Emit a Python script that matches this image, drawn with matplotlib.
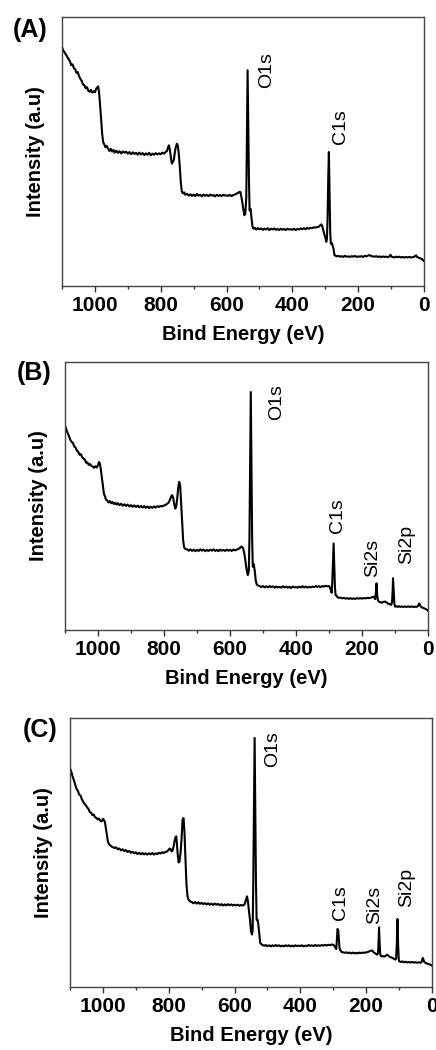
import matplotlib
matplotlib.use("Agg")
import matplotlib.pyplot as plt
from matplotlib.ticker import MultipleLocator

plt.rcParams['font.family'] = ['Liberation Sans', 'DejaVu Sans']

# ---------------- Data (binding energy eV, intensity a.u.) ----------------
E_A = [1100, 1096, 1092, 1088, 1084, 1080, 1076, 1072, 1068, 1064, 1060, 1056, 1052, 1048, 1044, 1040, 1036, 1032, 1028, 1024,
       1020, 1016, 1012, 1008, 1004, 1000, 996, 993, 990, 987, 984, 981, 978, 975, 972, 968, 964, 960, 956, 952,
       948, 944, 940, 935, 930, 925, 920, 915, 910, 905, 900, 895, 890, 885, 880, 875, 870, 865, 860, 855,
       850, 845, 840, 835, 830, 825, 820, 815, 810, 805, 800, 795, 790, 785, 781, 778, 775, 772, 769, 766,
       763, 760, 757, 754, 751, 748, 745, 742, 739, 736, 733, 729, 725, 720, 715, 710, 705, 700, 695, 690,
       685, 680, 675, 670, 665, 660, 655, 650, 645, 640, 635, 630, 625, 620, 615, 610, 605, 600, 595, 590,
       585, 580, 575, 570, 565, 561, 558, 555, 552, 549, 546, 543, 540, 538, 536, 534, 532, 530, 527, 524,
       521, 518, 514, 510, 505, 500, 495, 490, 485, 480, 475, 470, 465, 460, 455, 450, 445, 440, 435, 430,
       425, 420, 415, 410, 405, 400, 395, 390, 385, 380, 375, 370, 365, 360, 355, 350, 345, 340, 335, 330,
       325, 320, 316, 312, 309, 306, 303, 300, 297, 295, 293, 291, 289, 287, 285, 283, 281, 278, 275, 272,
       268, 264, 260, 255, 250, 245, 240, 235, 230, 225, 220, 215, 210, 205, 200, 195, 190, 185, 180, 175,
       170, 165, 160, 155, 150, 145, 140, 135, 130, 125, 120, 115, 110, 105, 102, 99, 95, 90, 85, 80,
       75, 70, 65, 60, 55, 50, 45, 40, 35, 30, 27, 24, 21, 18, 15, 10, 6, 3, 0]
I_A = [88.8, 87.5, 86.8, 86.0, 85.2, 84.3, 83.6, 82.1, 82.4, 81.0, 80.6, 79.2, 79.5, 77.9, 77.0, 76.2, 74.9, 74.6, 73.5, 73.9,
       72.6, 72.2, 72.9, 71.9, 72.4, 72.0, 73.4, 73.8, 74.2, 71.5, 67.0, 62.0, 56.6, 53.5, 52.8, 51.6, 52.1, 51.0, 50.2, 51.0,
       50.0, 50.6, 49.6, 50.3, 49.5, 50.1, 49.3, 50.0, 49.6, 49.9, 49.2, 49.8, 49.0, 49.7, 49.1, 49.5, 48.8, 49.6, 48.9, 49.4,
       48.7, 49.3, 48.8, 49.5, 48.6, 49.2, 48.8, 49.4, 48.9, 49.3, 49.0, 49.6, 49.2, 49.8, 50.2, 51.4, 52.3, 50.5, 47.6, 45.5,
       46.2, 47.0, 49.8, 51.7, 52.9, 52.2, 49.0, 44.2, 38.5, 35.2, 34.4, 34.8, 33.9, 34.3, 33.6, 34.1, 33.5, 34.0, 33.4, 34.2,
       33.6, 33.9, 33.3, 34.0, 33.5, 33.9, 33.4, 34.0, 33.6, 33.8, 33.3, 33.9, 33.5, 33.8, 33.4, 33.9, 33.6, 33.7, 33.5, 33.9,
       33.4, 33.8, 34.0, 34.3, 34.6, 35.0, 34.9, 33.2, 31.0, 28.5, 26.3, 26.8, 33.0, 55.0, 80.2, 60.0, 40.0, 28.1, 28.7, 25.0,
       22.0, 21.3, 21.6, 21.0, 21.5, 21.1, 21.4, 20.9, 21.3, 21.0, 21.5, 20.8, 21.3, 21.0, 21.4, 20.9, 21.2, 20.8, 21.3, 20.9,
       21.2, 20.8, 21.3, 21.0, 21.1, 20.9, 21.3, 20.8, 21.2, 21.0, 21.4, 21.1, 21.5, 21.1, 21.6, 21.3, 21.6, 21.5, 21.8, 21.7,
       21.9, 22.0, 22.5, 22.9, 22.2, 20.7, 19.2, 18.2, 16.4, 17.5, 25.0, 40.0, 49.8, 35.0, 20.0, 15.7, 16.0, 15.2, 13.9, 11.4,
       11.2, 11.0, 11.2, 10.9, 11.1, 10.8, 11.2, 10.9, 11.0, 10.8, 11.1, 10.9, 11.2, 10.8, 11.0, 10.9, 11.1, 10.8, 11.2, 11.0,
       11.3, 11.5, 11.1, 11.0, 10.9, 11.1, 10.8, 11.0, 10.7, 11.0, 10.8, 10.9, 10.7, 11.0, 11.6, 10.9, 10.8, 10.6, 10.9, 10.7,
       10.9, 10.6, 10.8, 10.6, 10.8, 10.6, 10.8, 10.6, 10.7, 10.8, 11.2, 11.4, 10.8, 10.6, 10.5, 10.2, 10.0, 9.6, 9.3]

E_B = [1100, 1096, 1092, 1088, 1084, 1080, 1076, 1072, 1068, 1064, 1060, 1056, 1052, 1048, 1044, 1040, 1036, 1032, 1028, 1024,
       1020, 1016, 1012, 1008, 1004, 1000, 997, 994, 991, 988, 985, 982, 979, 976, 972, 968, 964, 960, 956, 952,
       948, 944, 940, 935, 930, 925, 920, 915, 910, 905, 900, 895, 890, 885, 880, 875, 870, 865, 860, 855,
       850, 845, 840, 835, 830, 825, 820, 815, 810, 805, 800, 795, 790, 786, 782, 778, 775, 772, 769, 766,
       763, 760, 757, 754, 751, 748, 745, 742, 739, 735, 730, 725, 720, 715, 710, 705, 700, 695, 690, 685,
       680, 675, 670, 665, 660, 655, 650, 645, 640, 635, 630, 625, 620, 615, 610, 605, 600, 595, 590, 585,
       580, 575, 570, 566, 563, 560, 557, 554, 551, 548, 546, 543, 541, 539, 537, 535, 533, 531, 528, 525,
       522, 519, 515, 510, 505, 500, 495, 490, 485, 480, 475, 470, 465, 460, 455, 450, 445, 440, 435, 430,
       425, 420, 415, 410, 405, 400, 395, 390, 385, 380, 375, 370, 365, 360, 355, 350, 345, 340, 335, 330,
       325, 320, 315, 310, 305, 300, 297, 294, 292, 290, 288, 286, 284, 282, 280, 277, 274, 270, 265, 260,
       255, 250, 245, 240, 235, 230, 225, 220, 215, 210, 205, 200, 195, 190, 185, 180, 175, 170, 165, 162,
       160, 158, 156, 154, 152, 149, 145, 140, 135, 130, 126, 122, 118, 114, 111, 109, 107, 106, 104, 102,
       100, 96, 92, 88, 84, 80, 75, 70, 65, 60, 55, 50, 45, 40, 35, 31, 28, 26, 24, 20,
       15, 10, 5, 0]
I_B = [76.4, 74.8, 73.5, 72.4, 71.0, 70.2, 69.8, 68.5, 68.1, 66.9, 66.5, 65.4, 65.6, 64.5, 64.0, 63.6, 62.4, 62.5, 61.6, 61.9,
       61.2, 61.0, 60.5, 61.1, 60.6, 61.5, 62.7, 62.0, 59.5, 56.5, 53.4, 50.8, 49.9, 48.7, 48.3, 47.6, 48.1, 47.3, 47.8, 47.0,
       47.5, 46.8, 47.3, 46.6, 47.1, 46.4, 46.9, 46.3, 46.8, 46.1, 46.6, 46.0, 46.5, 45.9, 46.4, 45.8, 46.3, 45.7, 46.2, 45.6,
       46.1, 45.5, 46.0, 45.6, 46.1, 45.7, 46.2, 45.9, 46.3, 46.1, 46.5, 46.6, 47.2, 47.5, 48.6, 49.9, 50.3, 49.2, 47.0, 45.3,
       46.0, 49.0, 53.0, 55.3, 54.0, 47.0, 40.0, 33.5, 30.8, 30.2, 30.1, 29.6, 30.1, 29.5, 30.0, 29.4, 29.9, 29.5, 30.1, 29.6,
       30.0, 29.4, 29.9, 29.5, 30.0, 29.6, 30.1, 29.5, 29.9, 29.4, 30.0, 29.6, 29.9, 29.5, 30.0, 29.6, 29.9, 29.5, 30.0, 29.7,
       30.0, 30.2, 30.6, 31.1, 31.0, 30.4, 28.8, 26.5, 23.6, 21.5, 20.5, 22.0, 35.0, 60.0, 88.8, 60.0, 35.0, 23.6, 24.6, 22.0,
       18.5, 17.0, 16.6, 16.4, 16.0, 16.4, 15.9, 16.3, 15.9, 16.4, 16.0, 16.3, 15.8, 16.2, 15.9, 16.1, 15.8, 16.3, 15.9, 16.2,
       15.8, 16.1, 15.7, 16.2, 15.9, 16.0, 15.8, 16.2, 15.9, 16.3, 15.9, 16.2, 15.8, 16.1, 15.9, 16.2, 16.0, 16.4, 16.1, 16.3,
       16.0, 16.4, 16.2, 16.5, 16.3, 16.4, 15.8, 14.8, 13.9, 18.0, 25.0, 32.3, 24.0, 16.0, 13.0, 12.8, 12.2, 12.0, 12.1, 11.8,
       12.0, 11.7, 11.9, 11.6, 11.9, 11.6, 11.8, 11.6, 11.9, 11.7, 11.9, 11.7, 11.9, 11.8, 12.0, 11.9, 12.0, 12.2, 12.4, 12.0,
       11.5, 14.0, 17.4, 13.0, 11.2, 10.6, 10.4, 10.2, 10.5, 10.6, 10.3, 9.9, 9.7, 9.5, 9.4, 10.5, 15.0, 19.3, 15.0, 10.0,
       8.7, 8.9, 8.6, 8.9, 8.6, 8.8, 8.6, 8.8, 8.6, 8.8, 8.6, 8.8, 8.6, 8.7, 8.6, 8.9, 9.6, 9.9, 9.2, 8.5,
       8.3, 8.0, 7.7, 7.2]

E_C = [1100, 1096, 1092, 1088, 1084, 1080, 1076, 1072, 1068, 1064, 1060, 1056, 1052, 1048, 1044, 1040, 1036, 1032, 1028, 1024,
       1020, 1016, 1012, 1008, 1004, 1000, 997, 994, 991, 988, 985, 982, 979, 975, 970, 965, 960, 955, 950, 945,
       940, 935, 930, 925, 920, 915, 910, 905, 900, 895, 890, 885, 880, 875, 870, 865, 860, 855, 850, 845,
       840, 835, 830, 825, 820, 815, 810, 805, 800, 797, 794, 791, 788, 785, 782, 779, 777, 775, 773, 770,
       767, 764, 761, 758, 755, 752, 749, 746, 743, 740, 735, 730, 725, 720, 715, 710, 705, 700, 695, 690,
       685, 680, 675, 670, 665, 660, 655, 650, 645, 640, 635, 630, 625, 620, 615, 610, 605, 600, 595, 590,
       585, 580, 575, 570, 567, 564, 562, 559, 556, 553, 550, 547, 545, 543, 541, 539, 537, 535, 533, 530,
       528, 525, 522, 518, 514, 510, 505, 500, 495, 490, 485, 480, 475, 470, 465, 460, 455, 450, 445, 440,
       435, 430, 425, 420, 415, 410, 405, 400, 395, 390, 385, 380, 375, 370, 365, 360, 355, 350, 345, 340,
       335, 330, 325, 320, 315, 310, 305, 300, 297, 294, 291, 289, 287, 285, 283, 281, 279, 275, 270, 265,
       260, 255, 250, 245, 240, 235, 230, 225, 220, 215, 210, 205, 200, 195, 190, 185, 182, 178, 174, 170,
       167, 164, 162, 161, 159, 157, 155, 150, 145, 140, 136, 132, 128, 124, 120, 116, 112, 109, 107, 105,
       103, 101, 99, 95, 90, 85, 80, 75, 70, 65, 60, 55, 50, 45, 40, 35, 32, 30, 28, 26,
       24, 20, 15, 10, 5, 0]
I_C = [81.4, 80.0, 78.2, 76.8, 75.2, 73.6, 72.9, 71.5, 71.2, 69.8, 68.9, 68.1, 67.6, 66.8, 66.2, 65.1, 64.8, 63.9, 64.1, 63.1,
       62.9, 62.3, 62.6, 61.8, 61.6, 62.5, 62.1, 61.4, 59.0, 56.5, 54.2, 53.2, 52.8, 52.3, 52.0, 51.7, 51.9, 51.2, 51.5, 50.8,
       51.2, 50.5, 50.9, 50.2, 50.6, 49.9, 50.3, 49.7, 50.1, 49.4, 49.9, 49.3, 49.8, 49.3, 49.7, 49.2, 49.7, 49.3, 49.8, 49.2,
       49.7, 49.4, 49.9, 49.6, 50.1, 49.8, 50.2, 50.4, 51.0, 51.5, 51.2, 50.4, 50.8, 52.3, 54.5, 55.8, 56.0, 53.0, 49.8, 46.3,
       46.8, 50.0, 55.0, 62.2, 62.8, 57.2, 47.0, 38.0, 33.8, 32.5, 31.8, 31.6, 31.1, 31.6, 31.0, 31.5, 30.9, 31.3, 30.8, 31.2,
       30.7, 31.1, 30.6, 31.0, 30.5, 31.0, 30.6, 30.9, 30.4, 30.8, 30.3, 30.7, 30.3, 30.8, 30.4, 30.7, 30.3, 30.6, 30.3, 30.6,
       30.2, 30.5, 30.3, 30.6, 31.8, 33.0, 33.7, 31.5, 28.0, 25.0, 20.7, 19.5, 21.0, 40.0, 65.0, 92.6, 65.0, 40.0, 25.0, 25.0,
       23.5, 20.1, 16.4, 15.8, 15.6, 15.3, 15.6, 15.2, 15.5, 15.1, 15.5, 15.2, 15.6, 15.2, 15.5, 15.1, 15.4, 15.1, 15.5, 15.2,
       15.5, 15.1, 15.4, 15.1, 15.5, 15.2, 15.4, 15.2, 15.5, 15.1, 15.4, 15.2, 15.6, 15.3, 15.5, 15.2, 15.6, 15.3, 15.5, 15.3,
       15.6, 15.4, 15.7, 15.4, 15.7, 15.5, 15.8, 15.7, 15.3, 14.8, 14.1, 17.5, 21.6, 21.0, 18.0, 14.5, 13.9, 13.0, 12.9, 12.7,
       12.9, 12.6, 12.8, 12.5, 12.8, 12.5, 12.7, 12.5, 12.8, 12.6, 12.8, 12.7, 12.9, 13.0, 13.3, 13.5, 13.6, 13.0, 12.6, 12.3,
       12.0, 12.5, 18.0, 22.2, 16.0, 12.0, 11.4, 11.5, 11.3, 11.7, 12.0, 11.6, 11.2, 11.0, 10.8, 10.5, 10.2, 10.6, 16.0, 25.3,
       16.0, 10.0, 9.5, 9.3, 9.5, 9.2, 9.4, 9.1, 9.3, 9.1, 9.3, 9.1, 9.2, 9.0, 9.2, 9.0, 9.3, 10.0, 10.8, 10.2,
       9.4, 9.0, 8.7, 8.5, 8.3, 7.9]

# Peak annotations: (label, energy, intensity of label bottom)
labels_A = ["O1s", "C1s"]
lab_E_A = [478, 254]
lab_I_A = [73.7, 52.9]

labels_B = ["O1s", "C1s", "Si2s", "Si2p"]
lab_E_B = [460, 274, 167, 64]
lab_I_B = [78.3, 36.3, 19.9, 24.8]

labels_C = ["O1s", "C1s", "Si2s", "Si2p"]
lab_E_C = [483, 278, 174, 76]
lab_I_C = [81.8, 25.0, 23.5, 29.7]

panels = ["(A)", "(B)", "(C)"]
xticks = [1000, 800, 600, 400, 200, 0]

# ---------------- Figure ----------------
W, H = 436, 1050
fig = plt.figure(figsize=(W / 100, H / 100), dpi=100)

def px_axes(l, t, r, b):
    return fig.add_axes([l / W, 1 - b / H, (r - l) / W, (b - t) / H])

axes_px = [(62, 17, 424, 286), (65, 362, 428, 630), (70, 718, 432, 987)]
panel_pos = [(13, 30), (17, 373), (23, 730)]
datasets = [(E_A, I_A, labels_A, lab_E_A, lab_I_A),
            (E_B, I_B, labels_B, lab_E_B, lab_I_B),
            (E_C, I_C, labels_C, lab_E_C, lab_I_C)]

for (l, t, r, b), (px, py), name, (E, I, labs, lE, lI) in zip(axes_px, panel_pos, panels, datasets):
    ax = px_axes(l, t, r, b)
    ax.plot(E, I, color='black', lw=1.5)
    ax.set_xlim(1100, 0)
    ax.set_ylim(0, 100)
    ax.set_xticks(xticks)
    ax.xaxis.set_minor_locator(MultipleLocator(100))
    ax.set_yticks([])
    ax.tick_params(axis='x', which='major', direction='out', length=4, width=1,
                   labelsize=15, pad=3.5, color='#333333')
    ax.tick_params(axis='x', which='minor', direction='out', length=2.5, width=1, color='#333333')
    for lbl in ax.get_xticklabels():
        lbl.set_fontweight('bold')
    for sp in ax.spines.values():
        sp.set_color('#444444')
        sp.set_linewidth(1.0)
    ax.set_xlabel("Bind Energy (eV)", fontsize=14.5, fontweight='bold', labelpad=7)
    ax.set_ylabel("Intensity (a.u)", fontsize=14.5, fontweight='bold', labelpad=12)
    for s, e, v in zip(labs, lE, lI):
        ax.text(e, v, s, rotation=90, ha='center', va='bottom', fontsize=14)
    fig.text(px / W, 1 - py / H, name, fontsize=18, fontweight='bold', ha='left', va='center')

fig.savefig("out.png", dpi=100)
